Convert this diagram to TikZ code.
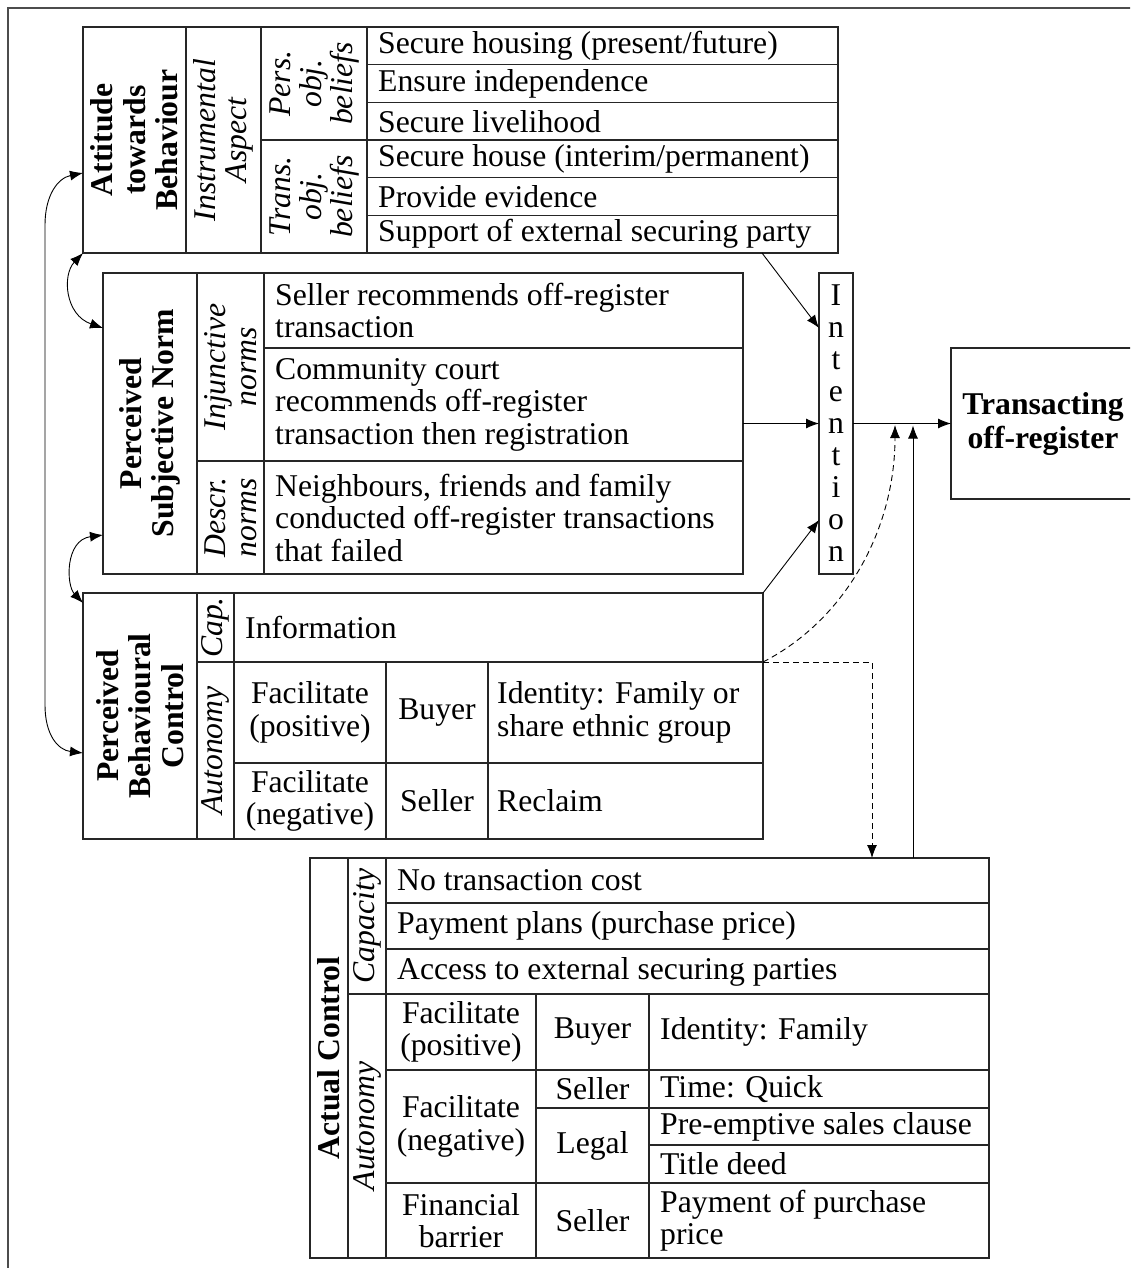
\documentclass[tikz,border=0pt]{standalone}
\usepackage{fontspec}
\setmainfont{Liberation Serif}
\usetikzlibrary{arrows.meta,calc}
\begin{document}
\begin{tikzpicture}[x=1pt,y=-1pt,
 tbl/.style={line width=1.2pt, draw=black!85},
 box/.style={tbl, draw, inner sep=0pt, outer sep=0pt, anchor=north west},
 arr/.style={line width=0.9pt, -{Latex[length=13pt,width=10pt]}},
 dbl/.style={line width=0.9pt, {Latex[length=13pt,width=10pt]}-{Latex[length=13pt,width=10pt]}},
 dsh/.style={dash pattern=on 6pt off 4pt},
 txt/.style={inner sep=0pt, font=\fontsize{31.7}{32.5}\selectfont},
 lt/.style={txt, anchor=west, align=left, xshift=11pt},
 ct/.style={txt, align=center},
 rt/.style={txt, align=center, rotate=90},
 rb/.style={rt, font=\fontsize{31.7}{32.5}\selectfont\bfseries},
 ri/.style={rt, font=\fontsize{31.7}{31}\selectfont\itshape},
]
\useasboundingbox (0,0) rectangle (1130,1268);
\clip (0,0) rectangle (1130,1268);
% outer frame
\draw[line width=1.2pt, black!70] (1140,8) -- (8,8) -- (8,1280);

% ===== Attitude towards Behaviour =====
\node[box, minimum width=755pt, minimum height=226pt] (ATB) at (83,27) {};
\draw[tbl] (186,27) -- (186,253) (261,27) -- (261,253) (367,27) -- (367,253);
\draw[tbl] (261,140) -- (838,140);
\draw[tbl] (367,64.67) -- (838,64.67) (367,102.33) -- (838,102.33)
           (367,177.67) -- (838,177.67) (367,215.33) -- (838,215.33);
\node[rb] (atbL) at (134.5,140) {Attitude\\towards\\Behaviour};
\node[ri] (instr) at (223.5,140) {Instrumental\\Aspect};
\node[ri] (pers) at (314,83.5) {Pers.\\obj.\\beliefs};
\node[ri] (trans) at (314,196.5) {Trans.\\obj.\\beliefs};
\node[lt] (a1) at (367,45.8) {Secure housing (present/future)};
\node[lt] (a2) at (367,83.5) {Ensure independence};
\node[lt] (a3) at (367,121.2) {Secure livelihood};
\node[lt] (a4) at (367,158.8) {Secure house (interim/permanent)};
\node[lt] (a5) at (367,196.5) {Provide evidence};
\node[lt] (a6) at (367,234.2) {Support of external securing party};

% ===== Perceived Subjective Norm =====
\node[box, minimum width=640pt, minimum height=301pt] (PSN) at (103,273) {};
\draw[tbl] (197,273) -- (197,574) (264,273) -- (264,574);
\draw[tbl] (197,461) -- (743,461) (264,348) -- (743,348);
\node[rb] (psnL) at (150,423.5) {Perceived\\Subjective Norm};
\node[ri] (inj) at (230.5,367) {Injunctive\\norms};
\node[ri] (descr) at (230.5,517.5) {Descr.\\norms};
\node[lt] (n1) at (264,310.5) {Seller recommends off-register\\transaction};
\node[lt] (n2) at (264,404.5) {Community court\\recommends off-register\\transaction then registration};
\node[lt] (n3) at (264,517.5) {Neighbours, friends and family\\conducted off-register transactions\\that failed};

% ===== Perceived Behavioural Control =====
\node[box, minimum width=680pt, minimum height=246pt] (PBC) at (83,593) {};
\draw[tbl] (197,593) -- (197,839) (234,593) -- (234,839);
\draw[tbl] (197,662) -- (763,662) (234,763) -- (763,763);
\draw[tbl] (386,662) -- (386,839) (488,662) -- (488,839);
\node[rb] (pbcL) at (140,716) {Perceived\\Behavioural\\Control};
\node[ri] (cap) at (215.5,627.5) {Cap.};
\node[ri] (aut1) at (215.5,750.5) {Autonomy};
\node[lt] (p1) at (234,627.5) {Information};
\node[ct] (p2) at (310,712.5) {Facilitate\\(positive)};
\node[ct] (p3) at (437,712.5) {Buyer};
\node[lt, xshift=-2pt] (p4) at (488,712.5) {Identity: Family or\\share ethnic group};
\node[ct] (p5) at (310,801) {Facilitate\\(negative)};
\node[ct] (p6) at (437,801) {Seller};
\node[lt, xshift=-2pt] (p7) at (488,801) {Reclaim};

% ===== Actual Control =====
\node[box, minimum width=679pt, minimum height=400pt] (AC) at (310,858) {};
\draw[tbl] (348,858) -- (348,1258) (386,858) -- (386,1258);
\draw[tbl] (348,994) -- (989,994);
\draw[tbl] (386,903) -- (989,903) (386,949) -- (989,949);
\draw[tbl] (536,994) -- (536,1258) (649,994) -- (649,1258);
\draw[tbl] (386,1070) -- (989,1070) (386,1183) -- (989,1183);
\draw[tbl] (536,1108) -- (989,1108) (649,1145) -- (989,1145);
\node[rb] (acL) at (329,1058) {Actual Control};
\node[ri] (capac) at (367,926) {Capacity};
\node[ri] (aut2) at (367,1126) {Autonomy};
\node[lt] (c1) at (386,880.5) {No transaction cost};
\node[lt] (c2) at (386,926) {Payment plans (purchase price)};
\node[lt] (c3) at (386,971.5) {Access to external securing parties};
\node[ct] (c4) at (461,1032) {Facilitate\\(positive)};
\node[ct] (c5) at (592.5,1032) {Buyer};
\node[lt] (c6) at (649,1032) {Identity: Family};
\node[ct] (c7) at (461,1126.5) {Facilitate\\(negative)};
\node[ct] (c8) at (592.5,1089) {Seller};
\node[ct] (c9) at (592.5,1145.5) {Legal};
\node[lt] (c10) at (649,1089) {Time: Quick};
\node[lt] (c11) at (649,1126.5) {Pre-emptive sales clause};
\node[lt] (c12) at (649,1164) {Title deed};
\node[ct] (c13) at (461,1220.5) {Financial\\barrier};
\node[ct] (c14) at (592.5,1220.5) {Seller};
\node[lt] (c15) at (649,1220.5) {Payment of purchase\\price};

% ===== Intention and behaviour =====
\node[box, txt, minimum width=34pt, minimum height=301pt, align=center,
      font=\fontsize{31.7}{32}\selectfont] (INT) at (819,273)
      {I\\n\\t\\e\\n\\t\\i\\o\\n};
\node[box, txt, minimum width=184pt, minimum height=151pt, align=center,
      font=\fontsize{31.7}{34}\selectfont\bfseries] (TR) at (951,348)
      {Transacting\\off-register};

% ===== connectors =====
\coordinate (atbOut) at (762,253);
\draw[arr] (atbOut) -- ($(INT.north west)+(0,55)$);
\draw[arr] (PSN.east) -- (INT.west);
\draw[arr] (PBC.north east) -- ($(INT.south west)+(0,-54)$);
\draw[arr] (INT.east) -- (TR.west);
\coordinate (pbcA) at (763,662);
\coordinate (dashTip) at (895,425);
\draw[arr,dsh] (pbcA) .. controls (845,620) and (895,530) .. (dashTip);
\coordinate (acIn) at (872,858);
\draw[arr,dsh] (pbcA) -- (pbcA -| acIn) -- (acIn);
\coordinate (acOut) at (913,858);
\draw[arr] (acOut) -- ($(acOut |- INT.east)+(0,2)$);

\draw[dbl] ($(ATB.north west)+(0,146)$) .. controls (58,178) and (45,195) .. (45,225)
   -- (45,705) .. controls (45,735) and (58,750) .. ($(PBC.north west)+(0,160)$);
\draw[dbl] (ATB.south west) .. controls (62,275) and (65,315) .. ($(PSN.north west)+(0,55)$);
\draw[dbl] ($(PSN.north west)+(0,262)$) .. controls (65,540) and (66,585) .. ($(PBC.north west)+(0,10)$);
\end{tikzpicture}
\end{document}
